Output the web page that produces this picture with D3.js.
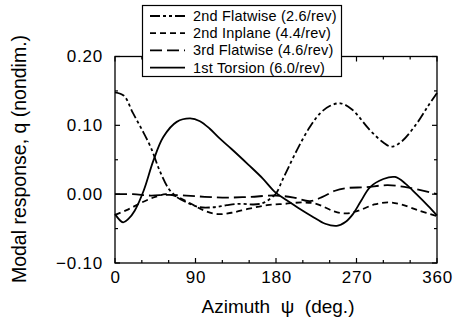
<!DOCTYPE html>
<html><head><meta charset="utf-8">
<script src="https://cdn.jsdelivr.net/npm/d3@7"></script>
<style>body{margin:0;background:#fff}svg{display:block}text{font-family:"Liberation Sans",Arial,sans-serif;fill:#000}</style>
</head><body>
<svg id="c" width="453" height="325"></svg>
<script>
const seriesNames = ["2nd Flatwise (2.6/rev)", "2nd Inplane (4.4/rev)", "3rd Flatwise (4.6/rev)", "1st Torsion (6.0/rev)"];
const flat2Deg = [0,10,20,30,40,50,60,70,80,95,110,125,140,155,165,172,180,187,194,205,218,229,240,252,265,285,300,309,320,337,350,360];
const flat2Val = [0.148,0.143,0.118,0.094,0.068,0.034,0.008,-0.005,-0.012,-0.019,-0.019,-0.016,-0.014,-0.015,-0.013,-0.008,0.001,0.020,0.039,0.068,0.098,0.117,0.128,0.132,0.123,0.093,0.075,0.069,0.076,0.102,0.128,0.147];
const inpl2Deg = [0,15,30,45,57,70,85,100,115,130,150,170,190,210,225,245,258,272,290,305,320,340,360];
const inpl2Val = [-0.030,-0.022,-0.012,-0.004,0.000,-0.004,-0.014,-0.024,-0.029,-0.027,-0.021,-0.016,-0.014,-0.012,-0.014,-0.025,-0.028,-0.024,-0.015,-0.012,-0.015,-0.024,-0.032];
const flat3Deg = [0,20,40,60,90,120,150,180,200,218,232,246,260,280,305,330,360];
const flat3Val = [0.000,0.000,-0.002,-0.001,-0.003,-0.005,-0.004,-0.002,-0.005,-0.010,-0.004,0.005,0.009,0.010,0.013,0.009,0.000];
const tors1Deg = [0,9,15,22,32,43,54,69,84,95,106,117,130,149,165,179,192,205,220,235,248,258,266,275,285,300,313,325,337,350,360];
const tors1Val = [-0.029,-0.041,-0.036,-0.024,0.005,0.049,0.083,0.105,0.110,0.106,0.095,0.081,0.066,0.043,0.023,0.003,-0.009,-0.020,-0.032,-0.043,-0.046,-0.040,-0.029,-0.010,0.010,0.022,0.025,0.015,0.000,-0.017,-0.031];
const xTicks = [0,90,180,270,360];
const yTicks = [-0.10,0.00,0.10,0.20];
const xMinor = d3.range(0,361,30);
const yMinor = [-0.10,-0.05,0,0.05,0.10,0.15,0.20];

const svg = d3.select("#c");
const L=115,R=437,T=56.5,B=263;
const x = d3.scaleLinear().domain([0,360]).range([L,R]);
const y = d3.scaleLinear().domain([-0.10,0.20]).range([B,T]);

const series = [
  {deg:flat2Deg,val:flat2Val,dash:"10,3,3,3,3,3"},
  {deg:inpl2Deg,val:inpl2Val,dash:"6,4"},
  {deg:flat3Deg,val:flat3Val,dash:"12,5"},
  {deg:tors1Deg,val:tors1Val,dash:null}
];
const line = d3.line().x(d=>x(d[0])).y(d=>y(d[1])).curve(d3.curveCatmullRom.alpha(0.5));
const g = svg.append("g");
series.forEach(s=>{
  const pts = s.deg.map((d,i)=>[d,s.val[i]]);
  g.append("path").attr("d",line(pts)).attr("fill","none").attr("stroke","#000")
   .attr("stroke-width",1.8).attr("stroke-dasharray",s.dash);
});

// frame
svg.append("rect").attr("x",L).attr("y",T).attr("width",R-L).attr("height",B-T)
  .attr("fill","none").attr("stroke","#000").attr("stroke-width",1.3);
// inward ticks
const tk = svg.append("g").attr("stroke","#000").attr("stroke-width",1.2);
xMinor.forEach(v=>{
  const len = v%90===0?5:3;
  tk.append("line").attr("x1",x(v)).attr("x2",x(v)).attr("y1",B).attr("y2",B-len);
  tk.append("line").attr("x1",x(v)).attr("x2",x(v)).attr("y1",T).attr("y2",T+len);
});
yMinor.forEach(v=>{
  const len = Math.abs(Math.round(v*100))%10===0?5:3;
  tk.append("line").attr("x1",L).attr("x2",L+len).attr("y1",y(v)).attr("y2",y(v));
  tk.append("line").attr("x1",R).attr("x2",R-len).attr("y1",y(v)).attr("y2",y(v));
});
// tick labels
const xa = d3.axisBottom(x).tickValues(xTicks).tickSize(0).tickPadding(8).tickFormat(d3.format("d"));
const xg = svg.append("g").attr("transform",`translate(0,${B})`).call(xa);
xg.select(".domain").remove();
xg.selectAll("text").attr("font-size",17).attr("letter-spacing","0.8px").attr("font-family","Liberation Sans, Arial");
const ya = d3.axisLeft(y).tickValues(yTicks).tickSize(0).tickPadding(12).tickFormat(d=>d3.format(".2f")(d).replace("-","\u2212"));
const yg = svg.append("g").attr("transform",`translate(${L},0)`).call(ya);
yg.select(".domain").remove();
yg.selectAll("text").attr("font-size",17).attr("letter-spacing","0.8px").attr("font-family","Liberation Sans, Arial");

// titles
svg.append("text").attr("x",278).attr("y",313).attr("text-anchor","middle").attr("font-size",19)
  .attr("xml:space","preserve").style("white-space","pre").text("Azimuth  \u03c8  (deg.)");
svg.append("text").attr("transform","translate(26,159) rotate(-90)").attr("text-anchor","middle")
  .attr("font-size",19.5).text("Modal response, q (nondim.)");

// legend
const lg = svg.append("g");
lg.append("rect").attr("x",142.5).attr("y",5.5).attr("width",199).attr("height",71)
  .attr("fill","#fff").attr("stroke","#000").attr("stroke-width",1.2);
series.forEach((s,i)=>{
  const yy = 16 + i*17.2;
  lg.append("line").attr("x1",150).attr("x2",185).attr("y1",yy).attr("y2",yy)
    .attr("stroke","#000").attr("stroke-width",1.8).attr("stroke-dasharray",s.dash);
  lg.append("text").attr("x",193).attr("y",yy+5).attr("font-size",14.5).attr("letter-spacing","0.2px").text(seriesNames[i]);
});
</script>
</body></html>
